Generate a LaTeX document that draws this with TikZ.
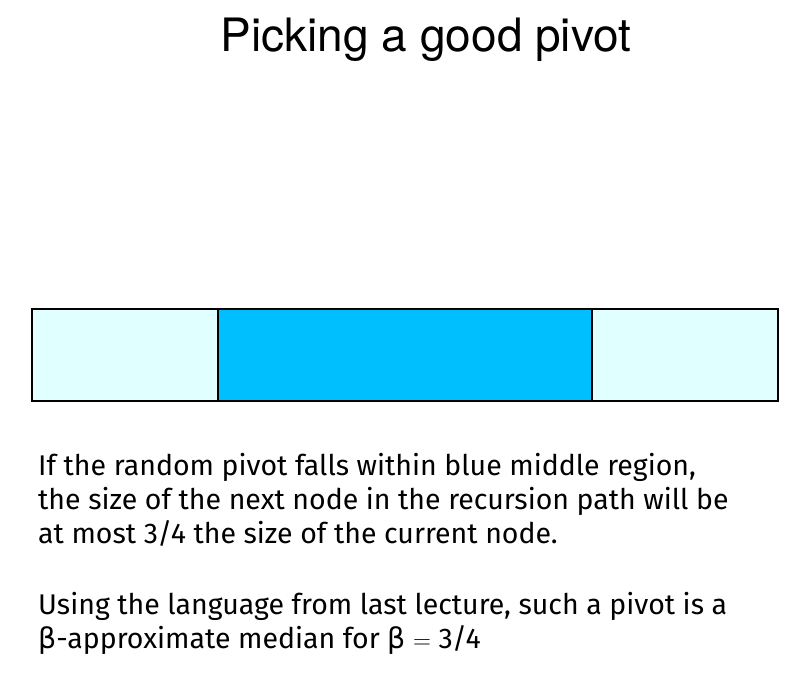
\documentclass[tikz,border=0pt]{standalone}
\usepackage{fontspec}
\usepackage{tikz}
\usetikzlibrary{positioning}
\setmainfont{Fira Sans}
\newfontfamily\titlefont{TeX Gyre Heros}
\newfontfamily\greekfont{DejaVu Sans}

\begin{document}
\begin{tikzpicture}[x=1pt,y=-1pt,
			side part/.style={rectangle,draw,line width=1.5pt,fill=sidecyan,minimum width=186pt,minimum height=92pt,outer sep=0pt,inner sep=0pt},
			middle part/.style={side part,fill=pivotblue,minimum width=374pt},
			body text/.style={anchor=base west,align=left,inner sep=0pt,font=\fontsize{28.5}{34}\selectfont}
			]
			
			\definecolor{sidecyan}{HTML}{E0FFFF}
			\definecolor{pivotblue}{HTML}{00BFFF}
			
			\useasboundingbox (0,0) rectangle (808,677);
			
			\node[anchor=base,inner sep=0pt,font=\titlefont\fontsize{46}{50}\selectfont] (title) at (426,52) {Picking a good pivot};
			
			\node[side part,anchor=north west] (left) at (32,309) {};
			\node[middle part,right=0pt of left] (middle) {};
			\node[side part,right=0pt of middle] (right) {};
			
			% base anchor sits on the last line
			\node[body text] (explain) at (38,543) {If the random pivot falls within blue middle region,\\
				the size of the next node in the recursion path will be\\
				at most 3/4 the size of the current node.};
			\node[body text] (median) at (38,648) {Using the language from last lecture, such a pivot is a\\
				{\greekfont β}-approximate median for {\greekfont β} $=$ 3/4};
			
			\end{tikzpicture}
\end{document}
